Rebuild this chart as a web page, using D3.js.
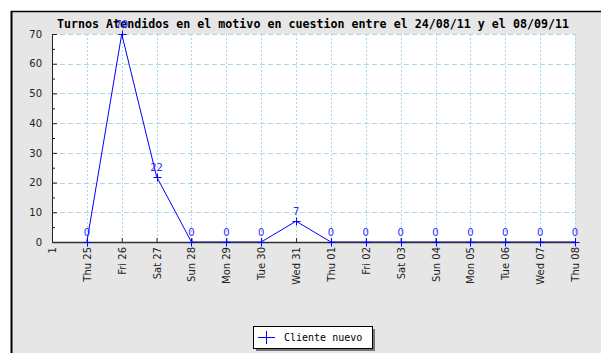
<!DOCTYPE html>
<html>
<head>
<meta charset="utf-8">
<script src="https://cdn.jsdelivr.net/npm/d3@7"></script>
<style>
  body { margin: 0; background: #fff; }
  svg { display: block; }
</style>
</head>
<body>
<svg id="chart"></svg>
<script>
// data
const titleText = 'Turnos Atendidos en el motivo en cuestion entre el 24/08/11 y el 08/09/11';
const xLabels = ['1', 'Thu 25', 'Fri 26', 'Sat 27', 'Sun 28', 'Mon 29', 'Tue 30', 'Wed 31',
                 'Thu 01', 'Fri 02', 'Sat 03', 'Sun 04', 'Mon 05', 'Tue 06', 'Wed 07', 'Thu 08'];
const seriesDays = xLabels.slice(1);
const clienteNuevo = [0, 70, 22, 0, 0, 0, 7, 0, 0, 0, 0, 0, 0, 0, 0];
const seriesName = 'Cliente nuevo';
const yTicks = [0, 10, 20, 30, 40, 50, 60, 70];
const yMinorTicks = [5, 15, 25, 35, 45, 55, 65];

const width = 601, height = 353;
const margin = {top: 34, right: 26, bottom: 111, left: 52};
const innerW = width - margin.left - margin.right;
const innerH = height - margin.top - margin.bottom;

const svg = d3.select('#chart').attr('width', width).attr('height', height);

// frame
svg.append('rect').attr('x', 11).attr('y', 11).attr('width', width - 11).attr('height', height - 11)
    .attr('fill', '#e6e6e6');
svg.append('line').attr('x1', 11).attr('x2', width).attr('y1', 11.5).attr('y2', 11.5)
    .attr('stroke', '#000').attr('stroke-width', 1.5);
svg.append('line').attr('x1', 11.5).attr('x2', 11.5).attr('y1', 11).attr('y2', height)
    .attr('stroke', '#000').attr('stroke-width', 2);

svg.append('text')
    .attr('x', 57).attr('y', 28)
    .attr('textLength', 512)
    .attr('lengthAdjust', 'spacingAndGlyphs')
    .style('font-family', '"DejaVu Sans Mono", monospace')
    .style('font-weight', 'bold')
    .style('font-size', '12px')
    .attr('fill', '#000')
    .text(titleText);

const chart = svg.append('g').attr('transform', `translate(${margin.left},${margin.top})`);

chart.append('rect').attr('width', innerW).attr('height', innerH).attr('fill', '#fff');

const x = d3.scalePoint().domain(xLabels).range([0, innerW]).padding(0);
const y = d3.scaleLinear().domain([0, 70]).range([innerH, 0]);

// grid
chart.append('g').selectAll('line')
    .data(yTicks.slice(1))
    .join('line')
    .attr('x1', 0).attr('x2', innerW)
    .attr('y1', d => Math.round(y(d)) + 0.5).attr('y2', d => Math.round(y(d)) + 0.5)
    .attr('stroke', '#a9d9e8').attr('stroke-dasharray', '5,3');

chart.append('g').selectAll('line')
    .data(xLabels.slice(1))
    .join('line')
    .attr('x1', d => Math.round(x(d)) + 0.5).attr('x2', d => Math.round(x(d)) + 0.5)
    .attr('y1', 0).attr('y2', innerH)
    .attr('stroke', '#a9d9e8').attr('stroke-dasharray', '2,2');

// series line (under the axes)
const points = seriesDays.map((d, i) => ({day: d, value: clienteNuevo[i]}));
const line = d3.line().x(d => x(d.day)).y(d => y(d.value));

chart.append('path')
    .attr('d', line(points))
    .attr('fill', 'none')
    .attr('stroke', '#0000ff')
    .attr('stroke-width', 1);

// axes
const yAxis = d3.axisLeft(y).tickValues(yTicks).tickSizeInner(-5).tickSizeOuter(0).tickPadding(10);
const yAxisG = chart.append('g').call(yAxis);
yAxisG.select('.domain').attr('stroke', '#222');
yAxisG.selectAll('.tick line').attr('stroke', '#222');
yAxisG.selectAll('text')
    .style('font-family', '"DejaVu Sans", sans-serif').style('font-size', '10px').attr('fill', '#222');

const yMinor = d3.axisLeft(y).tickValues(yMinorTicks).tickSizeInner(-3).tickSizeOuter(0).tickFormat('');
const yMinorG = chart.append('g').call(yMinor);
yMinorG.select('.domain').remove();
yMinorG.selectAll('.tick line').attr('stroke', '#222');

const xAxis = d3.axisBottom(x).tickSizeInner(-4).tickSizeOuter(0);
const xAxisG = chart.append('g').attr('transform', `translate(0,${innerH})`).call(xAxis);
xAxisG.select('.domain').attr('stroke', '#333').attr('stroke-width', 1.5);
xAxisG.selectAll('.tick line').attr('stroke', '#222');
xAxisG.selectAll('text')
    .attr('transform', 'rotate(-90)')
    .attr('x', -5).attr('y', 0).attr('dy', '0.35em')
    .style('text-anchor', 'end')
    .style('font-family', '"DejaVu Sans", sans-serif').style('font-size', '10px').attr('fill', '#222');

// markers and value labels
const marks = chart.append('g').selectAll('g')
    .data(points)
    .join('g')
    .attr('transform', d => `translate(${Math.round(x(d.day)) + 0.5},${Math.round(y(d.value)) + 0.5})`);
marks.append('path')
    .attr('d', 'M-4,0H4M0,-4V4')
    .attr('stroke', '#0000ff').attr('stroke-width', 1);

chart.append('g').selectAll('text')
    .data(points)
    .join('text')
    .attr('x', d => x(d.day))
    .attr('y', d => y(d.value) - 6)
    .attr('text-anchor', 'middle')
    .style('font-family', '"DejaVu Sans", sans-serif').style('font-size', '10px')
    .attr('fill', '#2a2aff')
    .text(d => d.value);

// legend
const legend = svg.append('g').attr('transform', 'translate(253,326)');
legend.append('rect').attr('x', 3).attr('y', 3).attr('width', 119).attr('height', 22).attr('fill', '#777');
legend.append('rect').attr('x', 0.5).attr('y', 0.5).attr('width', 119).attr('height', 22)
    .attr('fill', '#fff').attr('stroke', '#000');
legend.append('path').attr('d', 'M5,11.5H22M13.5,5V18').attr('stroke', '#0000ff').attr('stroke-width', 1);
legend.append('text')
    .attr('x', 31).attr('y', 15)
    .style('font-family', '"DejaVu Sans Mono", monospace').style('font-size', '10px')
    .attr('fill', '#000')
    .text(seriesName);
</script>
</body>
</html>
